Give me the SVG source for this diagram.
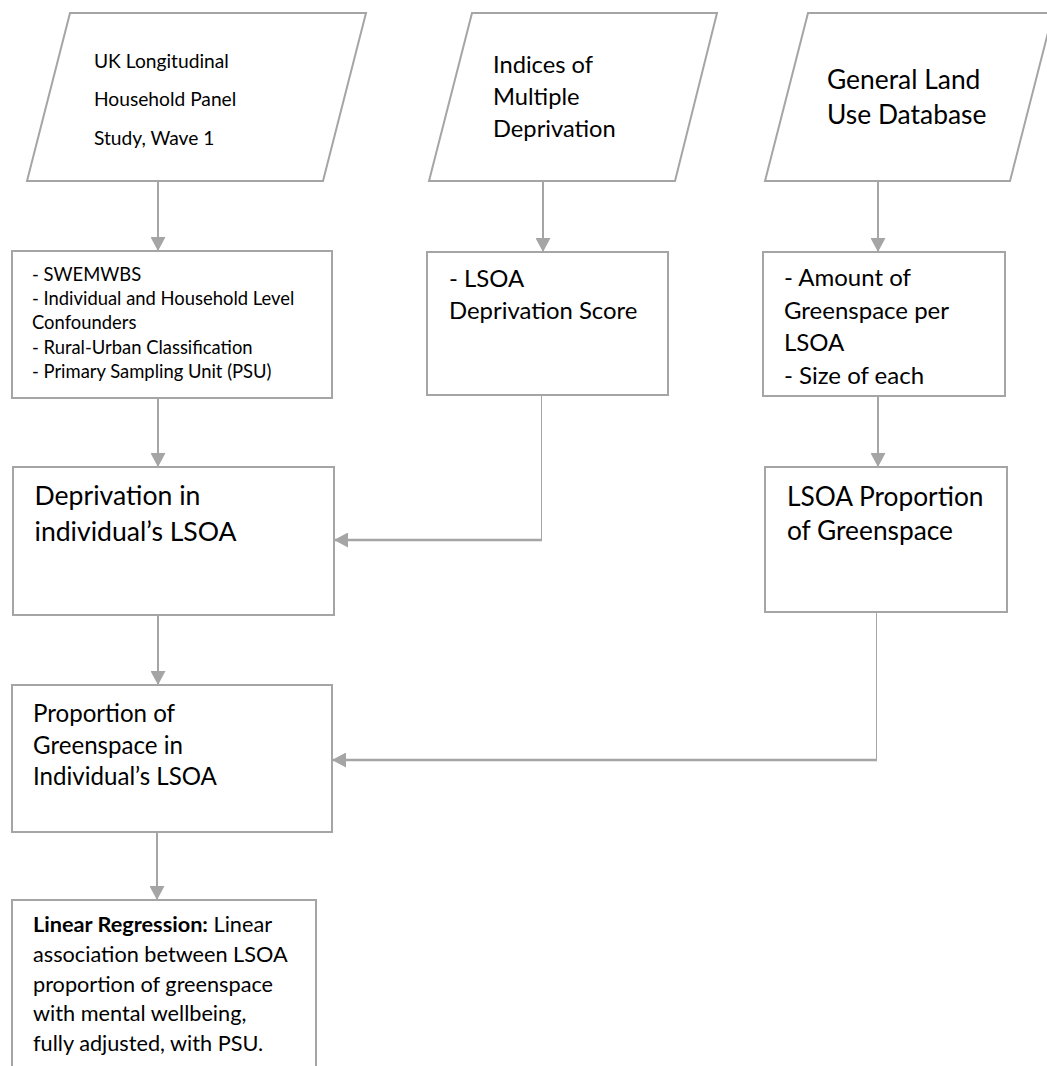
<svg xmlns="http://www.w3.org/2000/svg" width="1047" height="1066" viewBox="0 0 1047 1066">
<style>
.shape{fill:#fff;stroke:#A5A5A5;stroke-width:2}
.conn{fill:none;stroke:#A5A5A5;stroke-width:2}
.thin{stroke-width:1}
.wide{stroke-width:2.4}
.t{font-family:Lato,"Liberation Sans",sans-serif;fill:#000}
.b{font-weight:bold}
</style>
<defs>
<marker id="ah" viewBox="0 0 14 15" refX="13" refY="7.5" markerWidth="14" markerHeight="15" markerUnits="userSpaceOnUse" orient="auto">
<path d="M0,0 L14,7.5 L0,15 z" fill="#A5A5A5"/>
</marker>
</defs>
<rect width="1047" height="1066" fill="#fff"/>
<g id="connectors">
<path class="conn" d="M158,182 V250" marker-end="url(#ah)"/>
<path class="conn" d="M543,182 V251" marker-end="url(#ah)"/>
<path class="conn" d="M878,182 V251" marker-end="url(#ah)"/>
<path class="conn" d="M158,399 V466" marker-end="url(#ah)"/>
<path class="conn" d="M878,397 V466" marker-end="url(#ah)"/>
<path class="conn" d="M158,616 V684" marker-end="url(#ah)"/>
<path class="conn" d="M157,833 V899" marker-end="url(#ah)"/>
<path class="conn thin" d="M541.5,396 V540"/>
<path class="conn wide" d="M542,540 H335" marker-end="url(#ah)"/>
<path class="conn thin" d="M876.5,613 V760"/>
<path class="conn wide" d="M877,760 H333" marker-end="url(#ah)"/>
</g>
<g id="ukhls">
<polygon class="shape" points="70,13 366,13 323,181 27,181"/>
<text class="t" font-size="19.2"><tspan x="94" y="68">UK Longitudinal</tspan><tspan x="94" y="106">Household Panel</tspan><tspan x="94" y="145">Study, Wave 1</tspan></text>
</g>
<g id="imd">
<polygon class="shape" points="472,13 717,13 675,181 429,181"/>
<text class="t" font-size="23.7"><tspan x="493" y="73">Indices of</tspan><tspan x="493" y="105">Multiple</tspan><tspan x="493" y="137">Deprivation</tspan></text>
</g>
<g id="glud">
<polygon class="shape" points="808,13 1053,13 1010,181 765,181"/>
<text class="t" font-size="26.4"><tspan x="827" y="89">General Land</tspan><tspan x="827" y="124">Use Database</tspan></text>
</g>
<g id="variables">
<rect class="shape" x="12" y="251" width="320" height="147"/>
<text class="t" font-size="18.4"><tspan x="32" y="281">- SWEMWBS</tspan><tspan x="32" y="305">- Individual and Household Level</tspan><tspan x="32" y="329">Confounders</tspan><tspan x="32" y="354">- Rural-Urban Classification</tspan><tspan x="32" y="378">- Primary Sampling Unit (PSU)</tspan></text>
</g>
<g id="depscore">
<rect class="shape" x="427" y="252" width="241" height="143"/>
<text class="t" font-size="23.9"><tspan x="449" y="287">- LSOA</tspan><tspan x="449" y="319">Deprivation Score</tspan></text>
</g>
<g id="greenamount">
<rect class="shape" x="763" y="252" width="242" height="144"/>
<text class="t" font-size="24"><tspan x="784" y="286">- Amount of</tspan><tspan x="784" y="319">Greenspace per</tspan><tspan x="784" y="351">LSOA</tspan><tspan x="784" y="384">- Size of each</tspan></text>
</g>
<g id="depindividual">
<rect class="shape" x="13" y="467" width="321" height="148"/>
<text class="t" font-size="26.6"><tspan x="34.5" y="505">Deprivation in</tspan><tspan x="34.5" y="541">individual’s LSOA</tspan></text>
</g>
<g id="greenprop">
<rect class="shape" x="765" y="467" width="242" height="145"/>
<text class="t" font-size="26.3"><tspan x="787" y="506">LSOA Proportion</tspan><tspan x="787" y="540">of Greenspace</tspan></text>
</g>
<g id="greenindividual">
<rect class="shape" x="12" y="685" width="320" height="147"/>
<text class="t" font-size="24.1"><tspan x="33" y="722">Proportion of</tspan><tspan x="33" y="754">Greenspace in</tspan><tspan x="33" y="785">Individual’s LSOA</tspan></text>
</g>
<g id="regression">
<rect class="shape" x="12" y="900" width="304" height="190"/>
<text class="t" font-size="21.7"><tspan x="33" y="932"><tspan class="b">Linear Regression:</tspan> Linear</tspan><tspan x="33" y="962">association between LSOA</tspan><tspan x="33" y="992">proportion of greenspace</tspan><tspan x="33" y="1021">with mental wellbeing,</tspan><tspan x="33" y="1051">fully adjusted, with PSU.</tspan></text>
</g>
</svg>
